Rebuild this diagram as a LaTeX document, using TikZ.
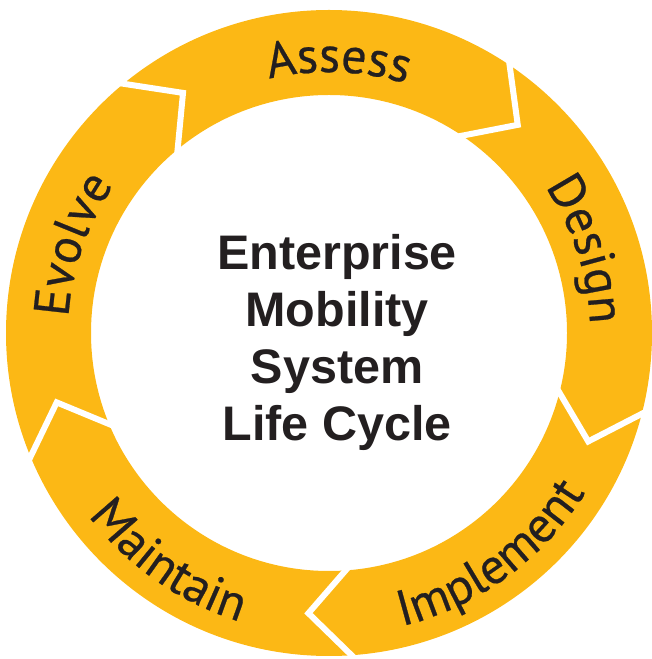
\documentclass[tikz,border=0pt]{standalone}
\usepackage{fontspec}
\setmainfont{Liberation Sans}
\newfontfamily\ringfam{PT Sans}[FakeBold=0.5]
\usetikzlibrary{decorations.text}
\definecolor{ringyellow}{RGB}{252,184,21}
\definecolor{txtdark}{RGB}{35,31,32}
\newcommand\ringfont{\ringfam\fontsize{50}{50}\selectfont\color{txtdark}}
\tikzset{
  sepline/.style={white, line width=6pt, line join=miter, shorten <=-6pt, shorten >=-6pt},
  centertext/.style={anchor=base, text=txtdark, font=\bfseries\fontsize{48.5}{48.5}\selectfont, inner sep=0pt},
  outlabel/.style={decorate, decoration={text along path, text align=center, text={|\ringfont|#1}}},
}
\begin{document}
\begin{tikzpicture}[x=1pt,y=1pt]
\useasboundingbox (0,0) rectangle (652,659);
\begin{scope}[shift={(329,326)}]
  \fill[ringyellow, even odd rule] (0,0) circle[radius=323pt] (0,0) circle[radius=238pt];
  \foreach \t in {129.5,56,-14.5,-86,-157.5}{
    \draw[sepline] (\t:323pt) -- (\t-8.2:281pt) -- (\t:238pt);
  }
  % labels with tops outward (clockwise paths)
  \path[outlabel=Assess] (128:261pt) arc[start angle=128, end angle=48, radius=261pt];
  \path[outlabel=Design] (58:261pt) arc[start angle=58, end angle=-22, radius=261pt];
  \path[outlabel=Evolve] (201:261pt) arc[start angle=201, end angle=121, radius=261pt];
  % labels with tops inward (counter-clockwise paths)
  \path[outlabel=Implement] (-99:302pt) arc[start angle=-99, end angle=-9, radius=302pt];
  \path[outlabel=Maintain] (-170:302pt) arc[start angle=-170, end angle=-80, radius=302pt];
\end{scope}
\node[centertext] (l1) at (337,389) {Enterprise};
\node[centertext] (l2) at (337,332) {Mobility};
\node[centertext] (l3) at (337,275) {System};
\node[centertext] (l4) at (337,218) {Life Cycle};
\end{tikzpicture}
\end{document}
